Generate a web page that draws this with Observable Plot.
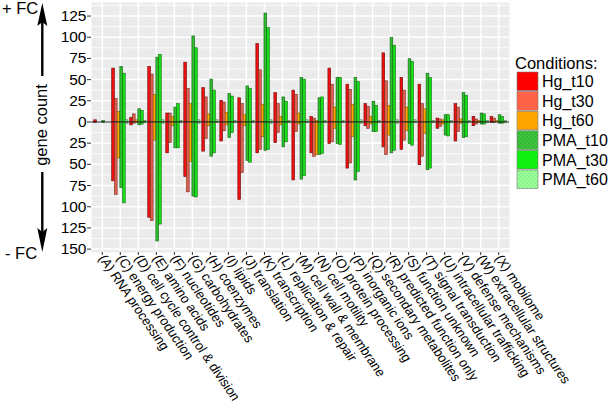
<!DOCTYPE html>
<html>
<head>
<meta charset="utf-8">
<script src="https://cdn.jsdelivr.net/npm/d3@7"></script>
<script src="https://cdn.jsdelivr.net/npm/@observablehq/plot@0.6"></script>
<style>
  body { margin: 0; background: #fff; }
  #chart svg { display: block; }
  g[aria-label="y-axis tick label"] text { font-size: 15.5px; }
</style>
</head>
<body>
<div id="chart"></div>
<script>
// ---- data ----
const categories = [
  "(A) RNA processing", "(C) energy production", "(D) cell cycle control & division",
  "(E) amino acids", "(F) nucleotides", "(G) carbohydrates", "(H) coenzymes",
  "(I) lipids", "(J) translation", "(K) transcription", "(L) replication & repair",
  "(M) cell wall & membrane", "(N) cell motility", "(O) protein processing",
  "(P) inorganic ions", "(Q) secondary metabolites", "(R) predicted function only",
  "(S) function unknown", "(T) signal transduction", "(U) intracellular trafficking",
  "(V) defense mechanisms", "(W) extracellular structures", "(X) mobilome"
];
const conditions = ["Hg_t10", "Hg_t30", "Hg_t60", "PMA_t10", "PMA_t30", "PMA_t60"];

// positive fold change gene counts (up), order A C D E F G H I J K L M N O P Q R S T U V W X
const hg_t10_up   = [2, 63, 5, 65, 10, 70, 40, 25, 28, 92, 34, 37, 6, 63, 44, 21, 81, 52, 44, 4, 21, 6, 6];
const hg_t30_up   = [0, 27, 9, 56, 10, 39, 29, 23, 21, 61, 21, 32, 4, 44, 38, 18, 48, 37, 21, 3, 17, 3, 4];
const hg_t60_up   = [0, 12, 2, 32, 6, 21, 9, 11, 8, 20, 6, 10, 1, 17, 20, 6, 19, 17, 15, 2, 3, 1, 1];
const pma_t10_up  = [1, 65, 15, 76, 17, 101, 50, 33, 42, 128, 29, 52, 28, 52, 52, 24, 99, 74, 57, 8, 34, 10, 8];
const pma_t30_up  = [0, 57, 13, 79, 21, 87, 37, 30, 39, 111, 24, 50, 29, 52, 47, 19, 90, 71, 52, 8, 31, 9, 6];
const pma_t60_up  = [0, 2, 1, 2, 1, 2, 2, 1, 1, 2, 1, 2, 1, 1, 2, 1, 2, 2, 1, 1, 1, 1, 1];

// negative fold change gene counts (down)
const hg_t10_down  = [1, 70, 4, 113, 37, 65, 35, 23, 92, 37, 25, 69, 37, 26, 55, 5, 30, 33, 51, 8, 23, 5, 1];
const hg_t30_down  = [0, 86, 2, 117, 25, 83, 20, 11, 60, 33, 13, 12, 41, 24, 49, 8, 39, 22, 41, 6, 12, 3, 1];
const hg_t60_down  = [0, 43, 1, 22, 5, 47, 5, 4, 5, 18, 4, 3, 39, 8, 18, 3, 16, 11, 14, 3, 2, 1, 0];
const pma_t10_down = [1, 78, 4, 141, 31, 88, 41, 19, 46, 34, 30, 68, 39, 26, 69, 12, 37, 26, 57, 16, 19, 3, 2];
const pma_t30_down = [0, 96, 3, 121, 31, 89, 37, 13, 48, 33, 24, 64, 38, 27, 59, 12, 34, 28, 55, 17, 18, 3, 2];
const pma_t60_down = [0, 2, 1, 2, 1, 2, 1, 1, 1, 2, 1, 1, 1, 1, 2, 1, 2, 1, 1, 1, 1, 1, 1];

const yTicks = [-150, -125, -100, -75, -50, -25, 0, 25, 50, 75, 100, 125];
const yMinor = [-137.5, -112.5, -87.5, -62.5, -37.5, -12.5, 12.5, 37.5, 62.5, 87.5, 112.5, 137.5];

// ---- build table ----
const upSeries = [hg_t10_up, hg_t30_up, hg_t60_up, pma_t10_up, pma_t30_up, pma_t60_up];
const downSeries = [hg_t10_down, hg_t30_down, hg_t60_down, pma_t10_down, pma_t30_down, pma_t60_down];
const rows = [];
conditions.forEach((cond, k) => {
  categories.forEach((cat, i) => {
    rows.push({cat, i, k, cond, value: upSeries[k][i]});
    rows.push({cat, i, k, cond, value: -downSeries[k][i]});
  });
});

const fills   = ["#F01010", "#E0604E", "#FFA500", "#2DC02D", "#18E018", "#90EE90"];
const strokes = ["#6A0606", "#7A2A22", "#8A5A00", "#145E14", "#0E6E0E", "#3C7A3C"];

const dodgeW = 0.9 / conditions.length;

const barMarks = conditions.map((cond, k) =>
  Plot.rectY(rows.filter(d => d.k === k && d.value !== 0), {
    x1: d => d.i - 0.45 + dodgeW * d.k,
    x2: d => d.i - 0.45 + dodgeW * (d.k + 1),
    y1: 0,
    y2: "value",
    fill: fills[k],
    stroke: strokes[k],
    strokeWidth: 0.6
  })
);

const chart = Plot.plot({
  width: 614,
  height: 406,
  marginLeft: 91,
  marginRight: 105,
  marginTop: 2,
  marginBottom: 154,
  style: {fontFamily: "'Liberation Sans', Arial, sans-serif", background: "#fff", color: "#000"},
  x: {type: "linear", domain: [-0.6, categories.length - 0.4]},
  y: {domain: [-154, 141]},
  marks: [
    Plot.frame({fill: "#EBEBEB", stroke: null}),
    Plot.gridY(yMinor, {stroke: "#fff", strokeOpacity: 1, strokeWidth: 0.8}),
    Plot.gridY(yTicks, {stroke: "#fff", strokeOpacity: 1, strokeWidth: 1.5}),
    Plot.gridX(d3.range(categories.length), {stroke: "#fff", strokeOpacity: 1, strokeWidth: 1.5}),
    ...barMarks,
    Plot.ruleY([0], {stroke: "#222", strokeWidth: 1}),
    Plot.axisY({
      ticks: yTicks, tickFormat: d => String(Math.abs(d)),
      tickSize: 4, tickPadding: 1, stroke: "#333", fill: "#000", label: null
    }),
    Plot.axisX({
      ticks: d3.range(categories.length), tickFormat: () => "",
      tickSize: 3, stroke: "#333", label: null
    })
  ]
});

document.getElementById("chart").appendChild(chart);

const svg = d3.select(chart);
const ff = "'Liberation Sans', Arial, sans-serif";

// ---- x tick labels, positioned with Plot's own x scale ----
// (the reference image is slightly stretched horizontally, mimic it)
const xs = chart.scale("x");
const ys = chart.scale("y");
const y0px = ys.apply(ys.domain[0]);
const xl = svg.append("g").attr("font-family", ff).attr("font-size", 12.5).attr("fill", "#000");
categories.forEach((label, i) => {
  xl.append("text")
    .attr("transform", `translate(${xs.apply(i)},${y0px + 4}) scale(1.1,1) rotate(58)`)
    .attr("text-anchor", "start")
    .attr("dy", "0.32em")
    .text(label);
});

// ---- annotations: left arrow + legend ----
const defs = svg.append("defs");
[["dots1", "#33BB33", "#7EE07E"], ["dots2", "#99FF99", "#5FC05F"]].forEach(([id, bg, dot]) => {
  const p = defs.append("pattern").attr("id", id).attr("width", 4).attr("height", 4)
    .attr("patternUnits", "userSpaceOnUse");
  p.append("rect").attr("width", 4).attr("height", 4).attr("fill", bg);
  p.append("circle").attr("cx", 1).attr("cy", 1).attr("r", 0.5).attr("fill", dot);
  p.append("circle").attr("cx", 3).attr("cy", 3).attr("r", 0.5).attr("fill", dot);
});

const ann = svg.append("g").attr("text-anchor", "start").attr("font-family", ff).attr("fill", "#000");
ann.append("text").attr("x", 2).attr("y", 14).attr("font-size", 16.5).attr("text-anchor", "start").text("+ FC");
ann.append("text").attr("x", 5).attr("y", 259).attr("font-size", 16.5).attr("text-anchor", "start").text("- FC");
ann.append("text").attr("transform", "translate(47,125) rotate(-90)").attr("text-anchor", "middle")
  .attr("font-size", 16.5).text("gene count");
ann.append("line").attr("x1", 42.3).attr("x2", 42.3).attr("y1", 20).attr("y2", 76).attr("stroke", "#000").attr("stroke-width", 2.4);
ann.append("line").attr("x1", 42.3).attr("x2", 42.3).attr("y1", 172).attr("y2", 232).attr("stroke", "#000").attr("stroke-width", 2.4);
ann.append("path").attr("d", "M42.3,3 L47.3,26 L42.3,22 L37.3,26 Z").attr("fill", "#000");
ann.append("path").attr("d", "M42.3,252 L47.3,228 L42.3,232 L37.3,228 Z").attr("fill", "#000");

const leg = svg.append("g").attr("text-anchor", "start").attr("font-family", ff).attr("fill", "#000");
leg.append("text").attr("x", 515).attr("y", 69).attr("font-size", 16.5).attr("text-anchor", "start").text("Conditions:");
const keyPaint = ["#FF0000", "#FF6347", "#FFA500", "url(#dots1)", "#11EE11", "url(#dots2)"];
conditions.forEach((c, k) => {
  const y0 = 72 + k * 19.6;
  leg.append("rect").attr("x", 517).attr("y", y0).attr("width", 21).attr("height", 18.6)
    .attr("fill", keyPaint[k]).attr("stroke", "#777").attr("stroke-width", 0.6);
  leg.append("text").attr("x", 542).attr("y", y0 + 9.5).attr("dy", "0.35em")
    .attr("font-size", 16).attr("text-anchor", "start").text(c);
});
</script>
</body>
</html>
